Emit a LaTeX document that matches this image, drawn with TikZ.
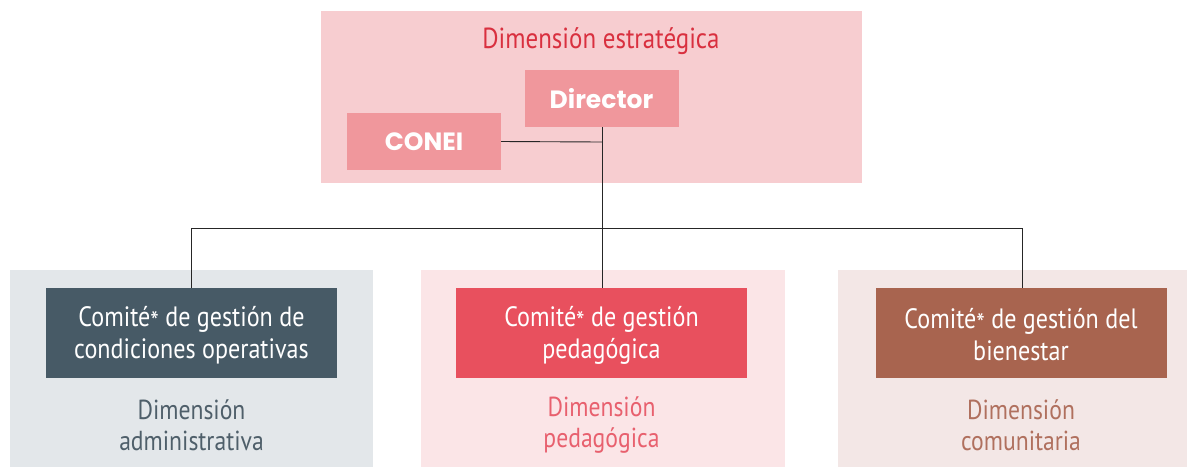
\documentclass[tikz,border=0pt]{standalone}
\usepackage{fontspec}
\setmainfont{PT Sans}[FakeStretch=0.86]
\newfontfamily\popfont{Poppins}
\newcommand{\lowstar}{\raisebox{-0.35ex}{*}}
\definecolor{topbg}{HTML}{F7CDD0}
\definecolor{topbox}{HTML}{F0979C}
\definecolor{topred}{HTML}{D9303F}
\definecolor{admbg}{HTML}{E3E7EA}
\definecolor{admbox}{HTML}{475A66}
\definecolor{admtxt}{HTML}{4F5F6A}
\definecolor{pedbg}{HTML}{FBE5E7}
\definecolor{pedbox}{HTML}{E8505E}
\definecolor{pedtxt}{HTML}{E8606E}
\definecolor{combg}{HTML}{F3E7E6}
\definecolor{combox}{HTML}{A8644F}
\definecolor{comtxt}{HTML}{B0705E}
\begin{document}
\begin{tikzpicture}[x=1pt,y=-1pt,
  topnode/.style={fill=topbox,draw=none,inner sep=0pt,outer sep=0pt,minimum width=154pt,minimum height=57pt,text=white,font=\popfont\bfseries\fontsize{25}{30}\selectfont},
  comnode/.style={draw=none,inner sep=0pt,outer sep=0pt,minimum width=291pt,minimum height=90pt,text=white,align=center,font=\fontsize{28}{32}\selectfont},
  dimlabel/.style={align=center,font=\fontsize{27.5}{31}\selectfont},
  conn/.style={draw=black!85,line width=0.9pt}]
\useasboundingbox (0,0) rectangle (1188,467);
% backgrounds
\fill[topbg] (321,11) rectangle (862,183);
\fill[admbg] (10,270) rectangle (373,467);
\fill[pedbg] (421,270) rectangle (785,467);
\fill[combg] (838,270) rectangle (1187,467);
% top
\node[text=topred,font=\fontsize{29}{34}\selectfont] (est) at (601,41) {Dimensión estratégica};
\node[topnode] (dir) at (601.5,98.5) {Director};
\node[topnode] (conei) at (424,141.5) {CONEI};
% committees
\node[comnode,fill=admbox] (adm) at (191.5,333) {};
\node[comnode,fill=pedbox] (ped) at (601.5,333) {};
\node[comnode,fill=combox] (com) at (1021,333) {};
\node[align=center,text=white,font=\fontsize{28}{32}\selectfont] (tadm) at (191.5,335) {Comité\lowstar{} de gestión de\\condiciones operativas};
\node[align=center,text=white,font=\fontsize{28}{32}\selectfont] (tped) at (601.5,335) {Comité\lowstar{} de gestión\\pedagógica};
\node[align=center,text=white,font=\fontsize{28}{32}\selectfont] (tcom) at (1021,335) {Comité\lowstar{} de gestión del\\bienestar};
% labels
\node[dimlabel,text=admtxt] (ladm) at (191.5,425) {Dimensión\\administrativa};
\node[dimlabel,text=pedtxt] (lped) at (601.5,425) {Dimensión\\pedagógica};
\node[dimlabel,text=comtxt] (lcom) at (1021,425) {Dimensión\\comunitaria};
% connectors
\coordinate (bus) at (602,228);
\coordinate (cj) at (602,142);
\draw[conn] (conei.east) -- (cj);
\draw[conn] (dir.south -| bus) -- (bus);
\draw[conn] (adm.north -| 191,0) -- (191,228) -- (1022,228) -- (com.north -| 1022,0);
\draw[conn] (bus) -- (ped.north -| bus);
\end{tikzpicture}
\end{document}
